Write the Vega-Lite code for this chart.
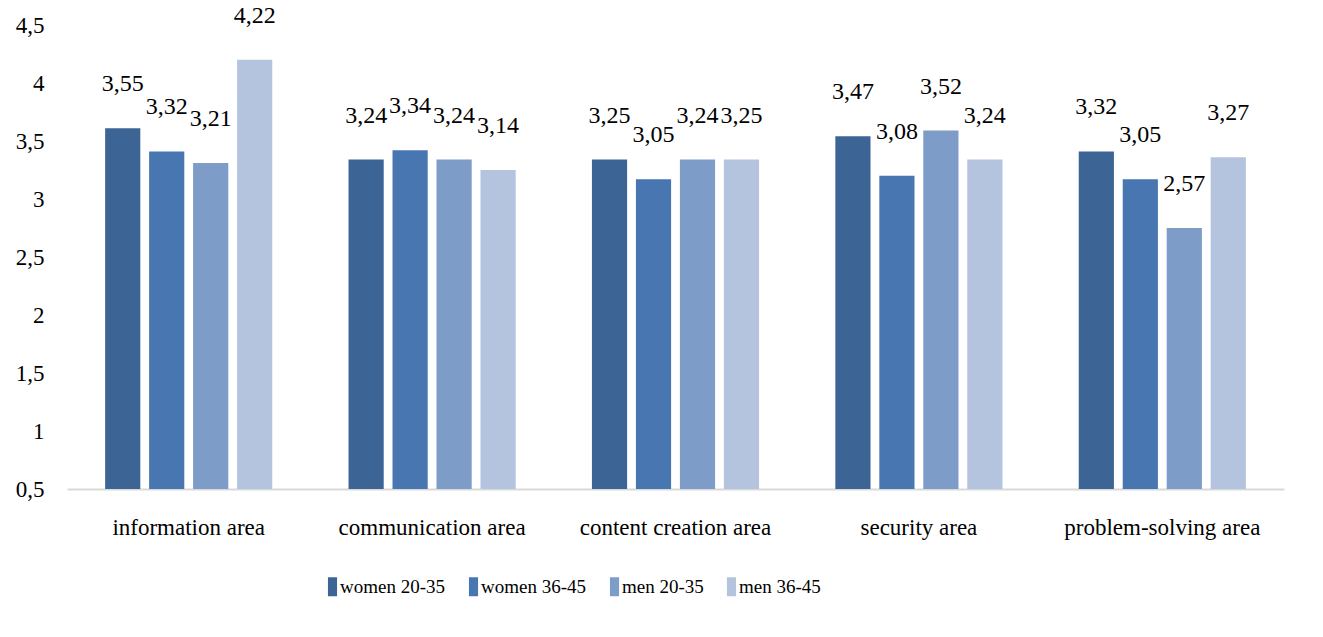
{
  "$schema": "https://vega.github.io/schema/vega-lite/v6.json",
  "autosize": "none",
  "width": 1217,
  "height": 464,
  "padding": {"left": 67, "top": 25, "right": 39, "bottom": 148},
  "background": "white",
  "config": {
    "view": {"stroke": null},
    "font": "Liberation Serif"
  },
  "data": {
    "values": [
      {"area": "information area", "group": "women 20-35", "value": 3.61, "label": "3,55"},
      {"area": "information area", "group": "women 36-45", "value": 3.41, "label": "3,32"},
      {"area": "information area", "group": "men 20-35", "value": 3.31, "label": "3,21"},
      {"area": "information area", "group": "men 36-45", "value": 4.20, "label": "4,22"},
      {"area": "communication area", "group": "women 20-35", "value": 3.34, "label": "3,24"},
      {"area": "communication area", "group": "women 36-45", "value": 3.42, "label": "3,34"},
      {"area": "communication area", "group": "men 20-35", "value": 3.34, "label": "3,24"},
      {"area": "communication area", "group": "men 36-45", "value": 3.25, "label": "3,14"},
      {"area": "content creation area", "group": "women 20-35", "value": 3.34, "label": "3,25"},
      {"area": "content creation area", "group": "women 36-45", "value": 3.17, "label": "3,05"},
      {"area": "content creation area", "group": "men 20-35", "value": 3.34, "label": "3,24"},
      {"area": "content creation area", "group": "men 36-45", "value": 3.34, "label": "3,25"},
      {"area": "security area", "group": "women 20-35", "value": 3.54, "label": "3,47"},
      {"area": "security area", "group": "women 36-45", "value": 3.20, "label": "3,08"},
      {"area": "security area", "group": "men 20-35", "value": 3.59, "label": "3,52"},
      {"area": "security area", "group": "men 36-45", "value": 3.34, "label": "3,24"},
      {"area": "problem-solving area", "group": "women 20-35", "value": 3.41, "label": "3,32"},
      {"area": "problem-solving area", "group": "women 36-45", "value": 3.17, "label": "3,05"},
      {"area": "problem-solving area", "group": "men 20-35", "value": 2.75, "label": "2,57"},
      {"area": "problem-solving area", "group": "men 36-45", "value": 3.36, "label": "3,27"}
    ]
  },
  "encoding": {
    "x": {
      "field": "area",
      "type": "nominal",
      "sort": null,
      "scale": {"paddingInner": 0, "paddingOuter": 0},
      "axis": {
        "title": null,
        "labelAngle": 0,
        "labelFont": "Liberation Serif",
        "labelFontSize": 23,
        "labelLimit": 0,
        "labelColor": "#000000",
        "labelPadding": 27,
        "ticks": false,
        "domainColor": "#d9d9d9",
        "domainWidth": 2
      }
    },
    "xOffset": {
      "field": "group",
      "type": "nominal",
      "sort": ["women 20-35", "women 36-45", "men 20-35", "men 36-45"],
      "scale": {"paddingInner": 0.2, "paddingOuter": 0.867}
    },
    "y": {
      "field": "value",
      "type": "quantitative",
      "scale": {"domain": [0.5, 4.5], "nice": false, "zero": false},
      "axis": {
        "title": null,
        "values": [0.5, 1, 1.5, 2, 2.5, 3, 3.5, 4, 4.5],
        "format": ".1~f",
        "labelExpr": "replace(datum.label, '.', ',')",
        "labelFont": "Liberation Serif",
        "labelFontSize": 23,
        "labelColor": "#000000",
        "labelPadding": 23,
        "ticks": false,
        "domain": false,
        "grid": false
      }
    }
  },
  "layer": [
    {
      "mark": {"type": "bar"},
      "encoding": {
        "y2": {"datum": 0.5},
        "color": {
          "field": "group",
          "type": "nominal",
          "sort": ["women 20-35", "women 36-45", "men 20-35", "men 36-45"],
          "scale": {"range": ["#3c6494", "#4876b0", "#7e9cc8", "#b4c3de"]},
          "legend": {
            "title": null,
            "orient": "none",
            "direction": "horizontal",
            "legendX": 256,
            "legendY": 552,
            "symbolType": "M-0.48,-1H0.48V1H-0.48Z",
            "symbolSize": 361,
            "symbolStrokeWidth": 0,
            "symbolOpacity": 1,
            "labelFont": "Liberation Serif",
            "labelFontSize": 19,
            "labelColor": "#000000",
            "labelOffset": -2,
            "columnPadding": 18
          }
        }
      }
    },
    {
      "mark": {"type": "text", "dy": -44, "baseline": "middle", "font": "Liberation Serif", "fontSize": 24, "color": "#000000"},
      "encoding": {
        "text": {"field": "label", "type": "nominal"}
      }
    }
  ]
}
